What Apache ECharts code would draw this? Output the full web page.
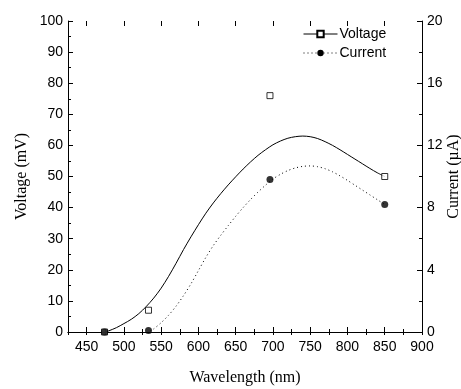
<!DOCTYPE html>
<html>
<head>
<meta charset="utf-8">
<script src="https://cdn.jsdelivr.net/npm/echarts@6/dist/echarts.min.js"></script>
<style>html,body{margin:0;padding:0;background:#fff}#c{width:461px;height:389px}</style>
</head>
<body>
<div id="c"></div>
<script>
// Measured data points
const voltagePts = [[474,0],[533,7.0],[696,76],[850,50]];          // mV
const currentPts = [[474,0],[533,0.1],[696,9.8],[850,8.2]];         // µA
// Fitted curves
const voltageFitX = [475,480,490,500,510,520,530,540,550,560,570,580,590,600,610,620,630,640,650,660,670,680,690,700,710,720,730,740,750,760,770,780,790,800,810,820,830,840,850];
const voltageFitY = [0,0.4,1.4,2.7,4.1,5.9,8.2,10.9,14.1,17.9,22.1,26.5,30.6,34.5,38.2,41.5,44.5,47.3,49.9,52.4,54.7,56.8,58.6,60.2,61.4,62.3,62.8,63.0,62.8,62.2,61.2,60.0,58.6,57.1,55.6,54.1,52.6,51.2,50.0];
const currentFitX = [535,540,550,560,570,580,590,600,610,620,630,640,650,660,670,680,690,700,710,720,730,740,750,760,770,780,790,800,810,820,830,840,850];
const currentFitY = [0.06,0.2,0.6,1.08,1.66,2.34,3.1,3.95,4.8,5.56,6.22,6.84,7.44,8.0,8.52,9.0,9.44,9.84,10.14,10.38,10.55,10.65,10.68,10.63,10.5,10.3,10.04,9.75,9.44,9.13,8.82,8.51,8.2];
const xMajorTicks = [450,500,550,600,650,700,750,800,850,900];

const chart = echarts.init(document.getElementById('c'));
const lab = {color:'#000', fontFamily:'Liberation Sans, Arial', fontSize:14};
const nameStyle = {color:'#000', fontFamily:'Liberation Serif, Times New Roman', fontSize:16};
const axLine = {show:true, lineStyle:{color:'#000', width:1}};
const tick = {show:true, inside:true, length:5, lineStyle:{color:'#000'}};
const mtick = {show:true, splitNumber:2, length:3, lineStyle:{color:'#000'}};
const gridBox = {left:68, right:39, top:21, bottom:57, outerBoundsMode:'none', containLabel:false};
chart.setOption({
  animation:false,
  backgroundColor:'#fff',
  grid:[Object.assign({}, gridBox), Object.assign({}, gridBox)],
  legend:{
    orient:'vertical', left:298, top:22, itemGap:5, itemWidth:34, itemHeight:8,
    data:['Voltage','Current'],
    lineStyle:{width:1},
    itemStyle:{borderWidth:1},
    textStyle:{color:'#000', fontFamily:'Liberation Sans, Arial', fontSize:14, padding:[0,0,0,-3]}
  },
  xAxis:[
    // minor ticks every 25 (main axes)
    {gridIndex:0, type:'value', min:425, max:900, interval:25, position:'bottom',
     axisLine:axLine, axisTick:Object.assign({}, tick, {length:3}), splitLine:{show:false},
     axisLabel:Object.assign({margin:8, formatter:v=> (v%50===0? String(v) : '')}, lab),
     name:'Wavelength (nm)', nameLocation:'middle', nameGap:38, nameMoveOverlap:false, nameTextStyle:nameStyle},
    {gridIndex:0, type:'value', min:425, max:900, interval:25, position:'top',
     axisLine:axLine, axisTick:Object.assign({}, tick, {length:3}), splitLine:{show:false}, axisLabel:{show:false}},
    // major ticks every 50
    {gridIndex:1, type:'value', min:425, max:900, position:'bottom',
     axisLine:{show:false}, axisTick:Object.assign({}, tick, {customValues:xMajorTicks}), splitLine:{show:false}, axisLabel:{show:false}},
    {gridIndex:1, type:'value', min:425, max:900, position:'top',
     axisLine:{show:false}, axisTick:Object.assign({}, tick, {customValues:xMajorTicks}), splitLine:{show:false}, axisLabel:{show:false}}
  ],
  yAxis:[
    {gridIndex:0, type:'value', min:0, max:100, interval:10, position:'left',
     axisLine:axLine, axisTick:tick, minorTick:mtick, splitLine:{show:false},
     axisLabel:Object.assign({margin:5}, lab),
     name:'Voltage (mV)', nameLocation:'middle', nameGap:38, nameMoveOverlap:false, nameTextStyle:nameStyle},
    {gridIndex:0, type:'value', min:0, max:20, interval:4, position:'right',
     axisLine:axLine, axisTick:tick, minorTick:mtick, splitLine:{show:false},
     axisLabel:Object.assign({margin:5}, lab),
     name:'Current (\u00b5A)', nameLocation:'middle', nameGap:24, nameRotate:90, nameMoveOverlap:false, nameTextStyle:nameStyle},
    {gridIndex:1, type:'value', min:0, max:100, show:false}
  ],
  series:[
    {name:'Voltage', type:'line', xAxisIndex:0, yAxisIndex:0,
     data:voltageFitX.map((x,i)=>[x, voltageFitY[i]]), smooth:0.3,
     symbol:'emptyRect', symbolSize:6, showSymbol:false,
     lineStyle:{color:'#000', width:1}, itemStyle:{color:'#000'}},
    {name:'Current', type:'line', xAxisIndex:0, yAxisIndex:1,
     data:currentFitX.map((x,i)=>[x, currentFitY[i]]), smooth:0.3,
     symbol:'circle', symbolSize:7, showSymbol:false,
     lineStyle:{color:'#000', width:1, type:[1,3]}, itemStyle:{color:'#000'}},
    {name:'Voltage data', type:'scatter', xAxisIndex:0, yAxisIndex:0, data:voltagePts,
     symbol:'rect', symbolSize:6, z:5,
     itemStyle:{color:'#fff', borderColor:'#000', borderWidth:1}},
    {name:'Current data', type:'scatter', xAxisIndex:0, yAxisIndex:1, data:currentPts,
     symbol:'circle', symbolSize:7, z:6, itemStyle:{color:'#000'}}
  ]
});
</script>
</body>
</html>
